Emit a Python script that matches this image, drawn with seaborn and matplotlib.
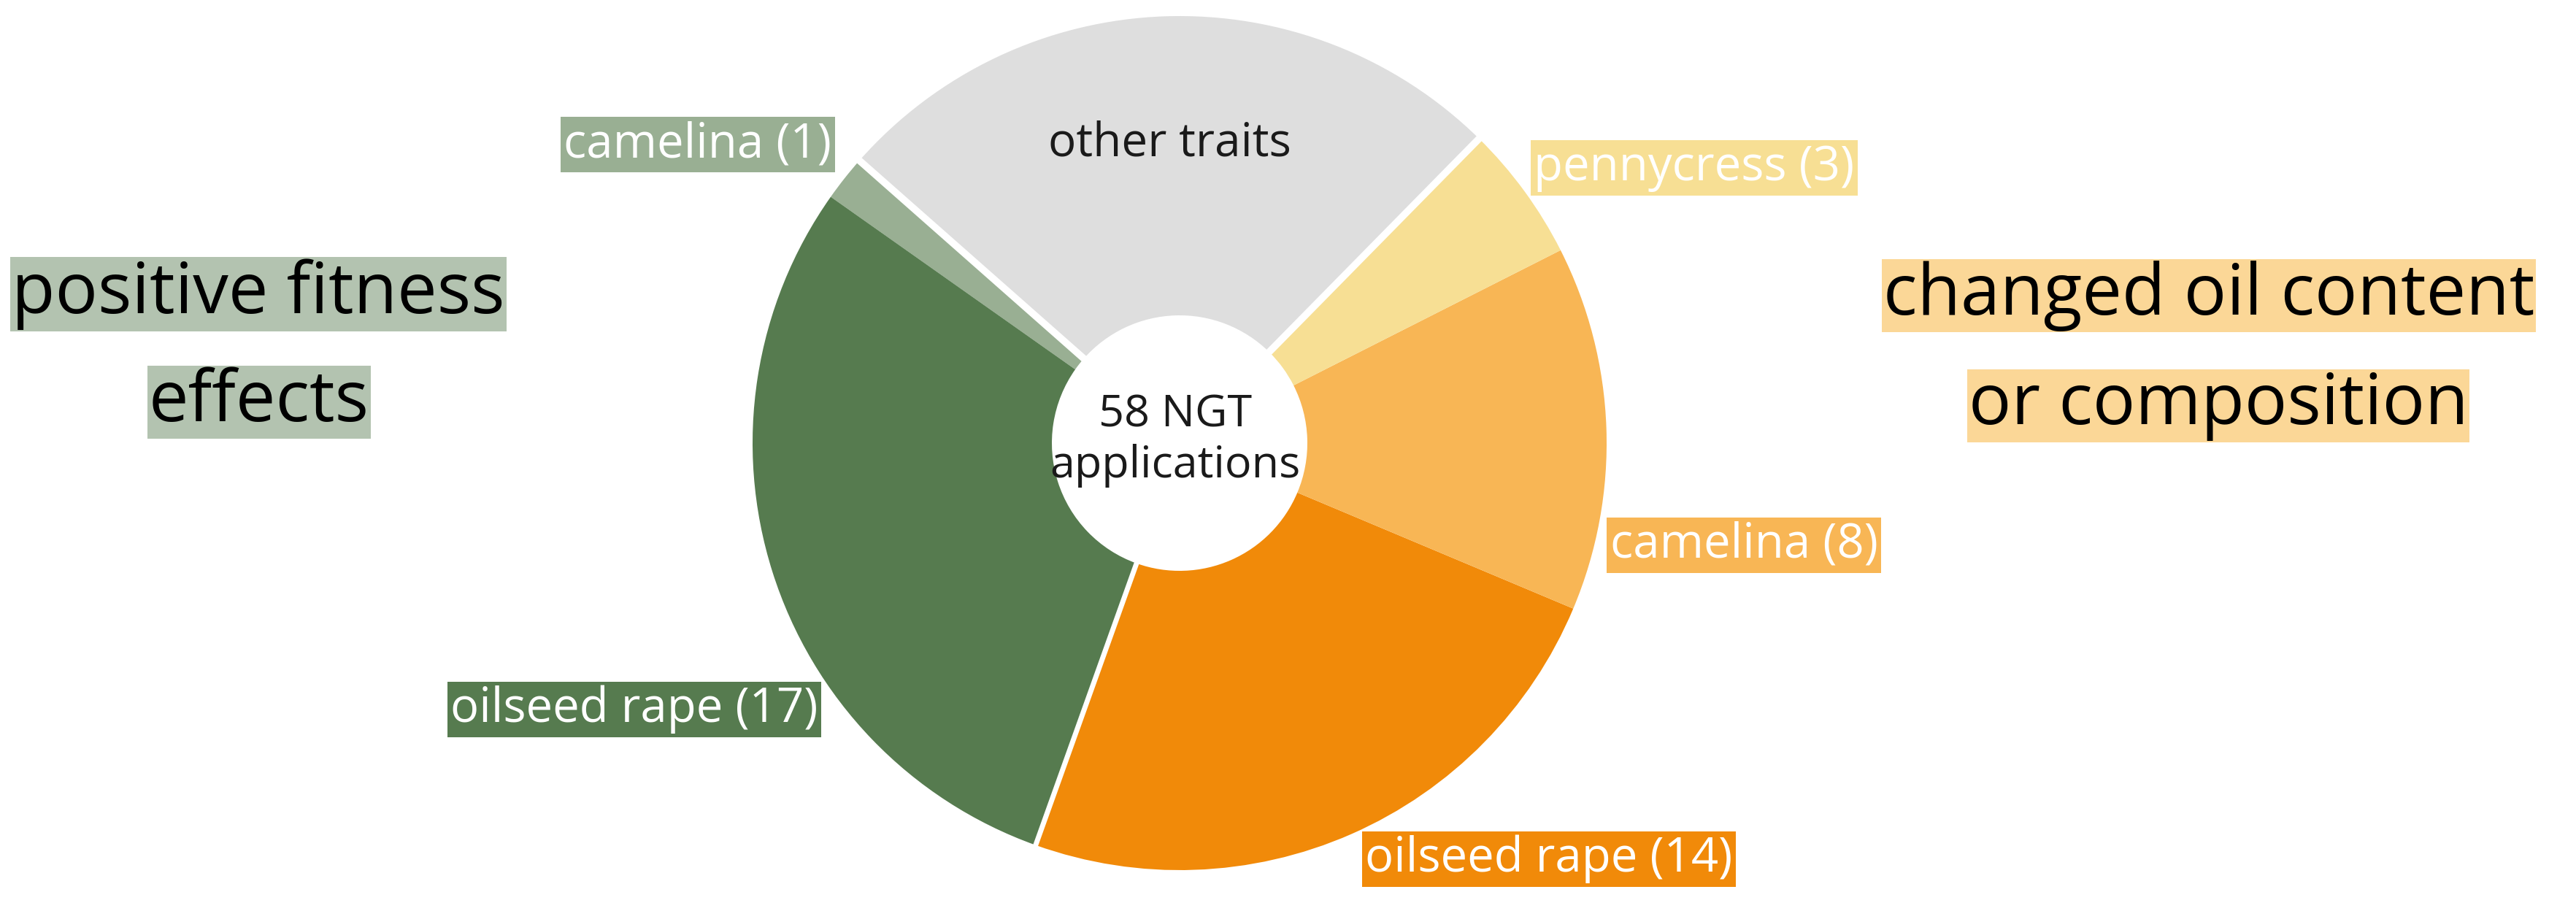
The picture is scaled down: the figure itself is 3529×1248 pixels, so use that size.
import numpy as np
import pandas as pd
import seaborn as sns
import matplotlib.pyplot as plt

# NGT applications, counter-clockwise starting at the bottom boundary
labels = ["oilseed rape (14)", "camelina (8)", "pennycress (3)", "other traits",
          "camelina (1)", "oilseed rape (17)"]
counts = [14, 8, 3, 15, 1, 17]
groups = ["oil", "oil", "oil", "other", "fitness", "fitness"]
colors = ["#F18A09", "#F8B655", "#F7DF94", "#DEDEDE", "#99AF93", "#567B4F"]
center_text = "58 NGT\napplications"

data = pd.DataFrame({"label": labels, "count": counts, "group": groups, "color": colors})

sns.set_theme(style="white")
plt.rcParams['font.family'] = ['Open Sans', 'DejaVu Sans']

W, H = 3529, 1248
fig = plt.figure(figsize=(W / 100, H / 100), dpi=100)
ax = fig.add_axes([0, 0, 1, 1])

cx, cy, R, r_in = 1616, 641, 585, 175
start = 250.3
ax.pie(data["count"], colors=data["color"], startangle=start, counterclock=True,
       center=(cx, cy), radius=R, wedgeprops=dict(width=R - r_in, linewidth=0))

# white gaps between the three groups
bounds = start + np.cumsum([0] + list(data["count"])) / data["count"].sum() * 360
for i in range(len(data)):
    prev = data["group"].iloc[i - 1]
    if data["group"].iloc[i] != prev:
        th = np.deg2rad(bounds[i])
        lw = 5 if {prev, data["group"].iloc[i]} == {"oil", "fitness"} else 7
        ax.plot([cx, cx + (R + 10) * np.cos(th)], [cy, cy + (R + 10) * np.sin(th)],
                color="white", lw=lw, solid_capstyle="butt")

ax.set_xlim(0, W)
ax.set_ylim(0, H)
ax.set_aspect("equal")
ax.axis("off")

# slice labels (layout only)
label_pos = {
    "oilseed rape (14)": (2122, 71),
    "camelina (8)": (2389, 501),
    "pennycress (3)": (2321, 1018),
    "other traits": (1602, 1052),
    "camelina (1)": (956, 1050),
    "oilseed rape (17)": (869, 276),
}
for lab, col in zip(data["label"], data["color"]):
    x, y = label_pos[lab]
    if lab == "other traits":
        ax.text(x, y, lab, ha="center", va="center", fontsize=46, color="#1a1a1a")
    else:
        ax.text(x, y, lab, ha="center", va="center", fontsize=47, color="white",
                bbox=dict(boxstyle="square,pad=0.07", fc=col, ec="none"))

ax.text(1610, 645, center_text, ha="center", va="center", fontsize=44,
        color="#1a1a1a", linespacing=1.2)

# group headings
for txt, x, y in [("positive fitness", 354, 845), ("effects", 355, 697)]:
    ax.text(x, y, txt, ha="center", va="center", fontsize=70, color="black",
            bbox=dict(boxstyle="square,pad=0.02", fc="#B3C3B0", ec="none"))
for txt, x, y in [("changed oil content", 3026, 843), ("or composition", 3039, 692)]:
    ax.text(x, y, txt, ha="center", va="center", fontsize=70, color="black",
            bbox=dict(boxstyle="square,pad=0.02", fc="#FBD797", ec="none"))

plt.savefig("out.png", dpi=100)
